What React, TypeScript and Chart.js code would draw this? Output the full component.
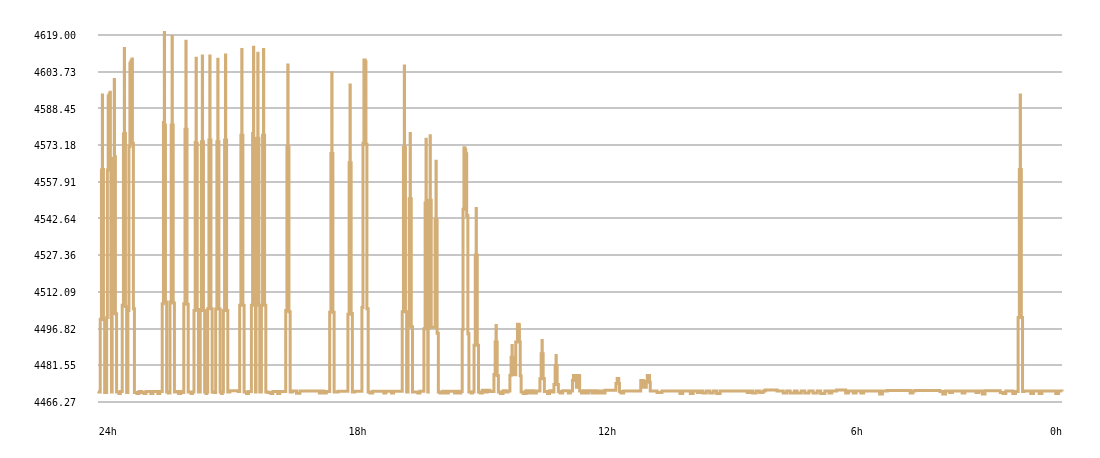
import React, { useEffect, useRef } from 'react';
import { Chart, registerables } from 'chart.js';

Chart.register(...registerables);

// ---- axis definitions ----
const Y_MIN = 4466.27;
const Y_MAX = 4619.0;
const Y_TICKS = [4466.27, 4481.55, 4496.82, 4512.09, 4527.36, 4542.64, 4557.91, 4573.18, 4588.45, 4603.73, 4619.0];

const FIRST_MINUTE_AGO = 1454;
const LAST_MINUTE_AGO = 64;
const X_TICK_MINUTES_AGO = [1454, 1440, 1080, 720, 360, 64];
const X_TICK_LABELS = ['', '24h', '18h', '12h', '6h', '0h'];

const LINE_COLOR = '#d3ae77';
const GRID_COLOR = '#c6c6c6';
const TICK_FONT = { family: '"DejaVu Sans Mono", monospace', size: 10 };

// ---- series: [minutes ago, value]; each sample holds until the next one (stepped) ----
const SEG_24_22H: [number, number][] = [
  [1454, 4470.6], [1453, 4470.4],
  [1451.0, 4500.7], [1449.25, 4562.8], [1447.95, 4594.0], [1447.65, 4563.0], [1446.35, 4500.5], [1444.6, 4470.2],
  [1441.7, 4501.4], [1440.7, 4562.8], [1439.5, 4593.6], [1438.1, 4594.4], [1436.8, 4595.2], [1436.4, 4567.6], [1435.6, 4501.4], [1434.8, 4470.4],
  [1433.8, 4503.1], [1432.05, 4567.6], [1430.75, 4600.5], [1430.45, 4568.3], [1429.15, 4503.0], [1427.4, 4470.4],
  [1424, 4469.8], [1422, 4470.6],
  [1419.3, 4506.5], [1417.55, 4577.8], [1416.25, 4613.4], [1415.95, 4578.0], [1414.65, 4506.0], [1412.9, 4470.2],
  [1411.1, 4504.4], [1409.6, 4572.5], [1408.2, 4607.2], [1406.8, 4608.2], [1405.3, 4609.0], [1404.6, 4573.9], [1403.2, 4505.1], [1401.7, 4470.2],
  [1398, 4469.8], [1395, 4470.6], [1391, 4470.2], [1388, 4469.8], [1385, 4470.6], [1378, 4469.8], [1375, 4470.6], [1368, 4469.8], [1365, 4470.6],
  [1361.6, 4507.2], [1359.85, 4582.6], [1358.55, 4620.0], [1358.25, 4581.5], [1356.95, 4507.9], [1355.2, 4470.4],
  [1353, 4470.0],
  [1350.4, 4507.9], [1348.65, 4581.5], [1347.35, 4618.4], [1347.05, 4581.5], [1345.75, 4507.5], [1344.0, 4470.4],
  [1341, 4470.6], [1338, 4469.8], [1335, 4470.6], [1332, 4470.2],
  [1330.5, 4507.2], [1328.75, 4579.8], [1327.45, 4616.4], [1327.15, 4579.8], [1325.85, 4507.0], [1324.1, 4470.4],
  [1320, 4469.8], [1318, 4470.4],
];

const SEG_22_20H: [number, number][] = [
  [1315.8, 4504.4], [1314.05, 4574.3], [1312.75, 4609.3], [1312.45, 4574.0], [1311.15, 4504.8], [1309.4, 4470.4],
  [1306.8, 4504.4], [1305.05, 4574.6], [1303.75, 4610.3], [1303.45, 4574.6], [1302.15, 4504.4], [1300.4, 4470.4],
  [1298.5, 4469.8], [1297.2, 4470.4],
  [1296.0, 4505.1], [1294.25, 4575.3], [1292.95, 4610.3], [1292.65, 4575.3], [1291.35, 4505.1], [1289.6, 4470.4],
  [1287, 4470.2],
  [1284.5, 4505.0], [1282.75, 4574.6], [1281.45, 4608.9], [1281.15, 4574.6], [1279.85, 4505.0], [1278.1, 4470.4],
  [1276, 4469.8], [1275, 4470.4],
  [1273.4, 4504.4], [1271.65, 4575.3], [1270.35, 4610.7], [1270.05, 4575.3], [1268.75, 4504.4], [1267.0, 4470.4],
  [1264, 4470.9], [1252, 4470.6],
  [1249.9, 4506.5], [1248.15, 4577.3], [1246.85, 4613.0], [1246.55, 4577.3], [1245.25, 4506.5], [1243.5, 4470.4],
  [1240, 4469.8], [1237, 4470.6],
  [1233.0, 4506.5], [1231.25, 4578.0], [1229.95, 4613.9], [1229.65, 4576.0], [1228.35, 4506.5], [1227.2, 4470.4],
  [1226.3, 4506.5], [1225.0, 4576.0], [1223.75, 4611.4], [1223.45, 4576.0], [1222.15, 4506.5], [1220.9, 4470.4],
  [1218.6, 4506.5], [1216.85, 4577.3], [1215.55, 4613.0], [1215.25, 4577.3], [1213.95, 4506.5], [1212.2, 4470.4],
  [1209, 4470.2], [1205, 4469.8], [1202, 4470.6],
];

const SEG_20_18H: [number, number][] = [
  [1195, 4469.8], [1192, 4470.6],
  [1183.5, 4504.4], [1181.75, 4572.5], [1180.45, 4606.5], [1180.15, 4572.5], [1178.85, 4503.8], [1177.1, 4470.4],
  [1174, 4470.8], [1168, 4469.9], [1163, 4470.8], [1135, 4470.0], [1132, 4470.8], [1129, 4470.0], [1125, 4470.6],
  [1120.1, 4503.6], [1118.35, 4569.7], [1117.05, 4603.3], [1116.75, 4569.7], [1115.45, 4503.6], [1113.7, 4470.4],
  [1108, 4470.7],
  [1093.8, 4502.8], [1092.05, 4565.8], [1090.75, 4598.2], [1090.45, 4565.8], [1089.15, 4503.1], [1087.4, 4470.4],
  [1084, 4470.7],
];

const SEG_18_16H: [number, number][] = [
  [1073.6, 4505.6], [1072.1, 4573.9], [1070.7, 4608.6], [1068.9, 4607.9], [1067.8, 4573.5], [1066.4, 4505.1], [1064.6, 4470.4],
  [1062, 4470.0], [1058, 4470.7], [1042, 4470.0], [1039, 4470.7], [1031, 4470.0], [1028, 4470.7],
  [1015.5, 4503.8], [1013.75, 4572.2], [1012.45, 4606.1], [1012.15, 4572.2], [1010.85, 4503.8], [1009.1, 4470.4],
  [1007.1, 4498.0], [1005.35, 4550.9], [1004.05, 4578.0], [1003.75, 4550.9], [1002.45, 4497.6], [1000.7, 4470.4],
  [993, 4470.0], [990, 4470.7],
  [984.2, 4496.8], [982.45, 4549.1], [981.15, 4575.6], [980.85, 4549.6], [979.55, 4497.0], [978.6, 4470.4],
  [978.0, 4497.0], [976.55, 4550.2], [975.25, 4577.1], [974.95, 4550.2], [973.65, 4497.4],
  [968.05, 4541.9], [966.75, 4566.5], [966.45, 4541.9], [965.15, 4494.9], [963.4, 4470.4],
  [961, 4470.0],
];

const SEG_16_14H: [number, number][] = [
  [957, 4470.7], [953, 4470.0], [949, 4470.7], [940, 4470.0], [937, 4470.7], [934, 4470.0], [931, 4470.6],
  [929.0, 4496.4], [927.8, 4546.5], [926.5, 4572.1], [925.0, 4571.2], [923.8, 4569.6], [922.5, 4543.9], [920.8, 4494.7], [919.3, 4470.4],
  [916, 4470.0], [914, 4470.5],
  [911.9, 4489.9], [910.15, 4527.4], [908.85, 4546.8], [908.55, 4527.4], [907.25, 4489.9], [905.5, 4470.4],
  [903, 4470.0], [900, 4471.2], [897, 4470.4], [893, 4471.2], [889, 4470.6],
  [883.2, 4477.7], [881.45, 4491.2], [880.15, 4498.1], [879.85, 4491.2], [878.55, 4477.3], [876.8, 4470.4],
  [874, 4469.8], [870, 4471.0], [866, 4470.4], [863, 4470.8],
  [860.2, 4477.4], [858.45, 4484.9], [857.15, 4489.8], [856.85, 4484.9], [855.55, 4477.6],
  [851.8, 4491.2], [849.3, 4498.6], [847.5, 4498.4], [846.5, 4491.2], [845.3, 4477.2], [844.0, 4470.4],
  [841, 4469.8],
];

const SEG_14_12H: [number, number][] = [
  [837, 4471.0], [834, 4470.0], [830, 4471.0], [826, 4470.0], [822, 4470.8],
  [816.9, 4475.9], [815.15, 4486.4], [813.85, 4491.9], [813.55, 4486.4], [812.25, 4476.0], [810.5, 4470.6],
  [806, 4469.8], [803, 4471.0], [800, 4470.4],
  [796.7, 4473.6], [794.95, 4481.5], [793.65, 4485.6], [793.35, 4481.5], [792.05, 4473.6], [790.3, 4470.6],
  [788, 4470.0], [784, 4471.0], [776, 4470.0], [773, 4470.8],
  [770.0, 4475.2], [768.6, 4477.3], [764.4, 4472.4], [762.8, 4477.3], [759.6, 4470.8],
  [757, 4470.0], [754, 4471.0], [750, 4470.0], [747, 4471.0], [742, 4470.0], [738, 4471.0], [735, 4470.0], [731, 4470.8], [727, 4470.0], [723, 4471.2],
];

const SEG_12_8H: [number, number][] = [
  [707.3, 4474.0], [705.5, 4476.0], [703.2, 4474.0], [702.2, 4470.6],
  [700, 4470.0], [696, 4470.8],
  [671.5, 4475.2], [667.6, 4472.4], [663.5, 4474.8], [662.1, 4477.3], [658.9, 4474.5], [657.8, 4470.8],
  [648, 4470.2], [641, 4470.8], [615, 4469.8], [611, 4470.8], [600, 4469.8], [596, 4470.8], [590, 4470.2], [586, 4470.8],
  [582, 4470.0], [577, 4470.8], [572, 4470.0], [567, 4470.8], [562, 4469.8], [557, 4470.8], [518, 4470.2], [514, 4470.8],
  [510, 4470.0], [505, 4470.8], [500, 4470.2], [495, 4470.8], [492, 4471.3],
];

const SEG_8_4H: [number, number][] = [
  [475, 4470.8], [466, 4470.0], [461, 4470.8], [456, 4470.0], [450, 4470.8], [446, 4470.0], [440, 4470.8], [435, 4470.0], [429, 4470.8],
  [423, 4470.0], [417, 4470.8], [412, 4469.8], [406, 4470.8], [400, 4470.0], [396, 4470.8], [389, 4471.3], [376, 4470.0], [372, 4470.8],
  [365, 4470.0], [361, 4470.8], [354, 4470.0], [350, 4470.8], [327, 4469.6], [323, 4470.8], [316, 4471.1],
  [283, 4470.0], [279, 4470.8], [276, 4471.1],
];

const SEG_4_0H: [number, number][] = [
  [240, 4470.6], [236, 4469.6], [232, 4470.8], [226, 4470.2], [222, 4470.8], [208, 4470.0], [204, 4470.8], [188, 4470.2], [184, 4470.8],
  [179, 4469.6], [175, 4471.0], [153, 4470.2], [149, 4469.8], [145, 4470.8], [135, 4469.8], [131, 4470.6],
  [127.3, 4501.4], [125.55, 4563.0], [124.25, 4594.0], [123.95, 4563.0], [122.65, 4501.4], [120.9, 4470.6],
  [119, 4470.8], [109, 4469.8], [105, 4470.8], [97, 4469.8], [93, 4470.8], [73, 4469.8], [69, 4470.8], [64, 4470.6],
];

export default function App() {
  const canvasRef = useRef<HTMLCanvasElement>(null);

  useEffect(() => {
    const samples = [
      ...SEG_24_22H, ...SEG_22_20H, ...SEG_20_18H, ...SEG_18_16H,
      ...SEG_16_14H, ...SEG_14_12H, ...SEG_12_8H, ...SEG_8_4H, ...SEG_4_0H,
    ];
    const points = samples.map(([m, v]) => ({ x: -m, y: v }));

    const chart = new Chart(canvasRef.current as HTMLCanvasElement, {
      type: 'line',
      data: {
        datasets: [
          {
            data: points,
            borderColor: LINE_COLOR,
            backgroundColor: LINE_COLOR,
            borderWidth: 3,
            pointRadius: 0,
            stepped: 'before',
            fill: false,
            borderJoinStyle: 'miter',
            clip: false,
          } as any,
        ],
      },
      options: {
        animation: false,
        responsive: false,
        devicePixelRatio: 1,
        events: [],
        layout: { padding: { left: 34, right: 38, top: 35, bottom: 20 } },
        plugins: {
          legend: { display: false },
          tooltip: { enabled: false },
        },
        scales: {
          x: {
            type: 'linear',
            min: -FIRST_MINUTE_AGO,
            max: -LAST_MINUTE_AGO,
            afterBuildTicks: (scale: any) => {
              scale.ticks = X_TICK_MINUTES_AGO.map((m) => ({ value: -m })).sort((a, b) => a.value - b.value);
            },
            ticks: {
              autoSkip: false,
              maxRotation: 0,
              minRotation: 0,
              align: 'inner',
              padding: 0,
              color: '#000',
              font: TICK_FONT,
              callback: (v: any) => {
                const i = X_TICK_MINUTES_AGO.indexOf(-Number(v));
                return i >= 0 ? X_TICK_LABELS[i] : '';
              },
            },
            grid: { display: true, drawOnChartArea: false, drawTicks: true, tickLength: 24, tickColor: 'rgba(0,0,0,0)' },
            border: { display: false },
          },
          y: {
            type: 'linear',
            min: Y_MIN,
            max: Y_MAX,
            afterBuildTicks: (scale: any) => {
              scale.ticks = Y_TICKS.map((v) => ({ value: v }));
            },
            ticks: {
              padding: 0,
              labelOffset: 1.5,
              color: '#000',
              font: TICK_FONT,
              callback: (v: any) => Number(v).toFixed(2),
            },
            grid: { color: GRID_COLOR, lineWidth: 2, drawTicks: true, tickLength: 22, tickColor: 'rgba(0,0,0,0)' },
            border: { display: false },
          },
        },
      } as any,
    });

    return () => chart.destroy();
  }, []);

  return (
    <div style={{ position: 'fixed', left: 0, top: 0, width: 1100, height: 458, background: '#fff' }}>
      <canvas ref={canvasRef} width={1100} height={458} style={{ display: 'block', width: 1100, height: 458 }} />
    </div>
  );
}
